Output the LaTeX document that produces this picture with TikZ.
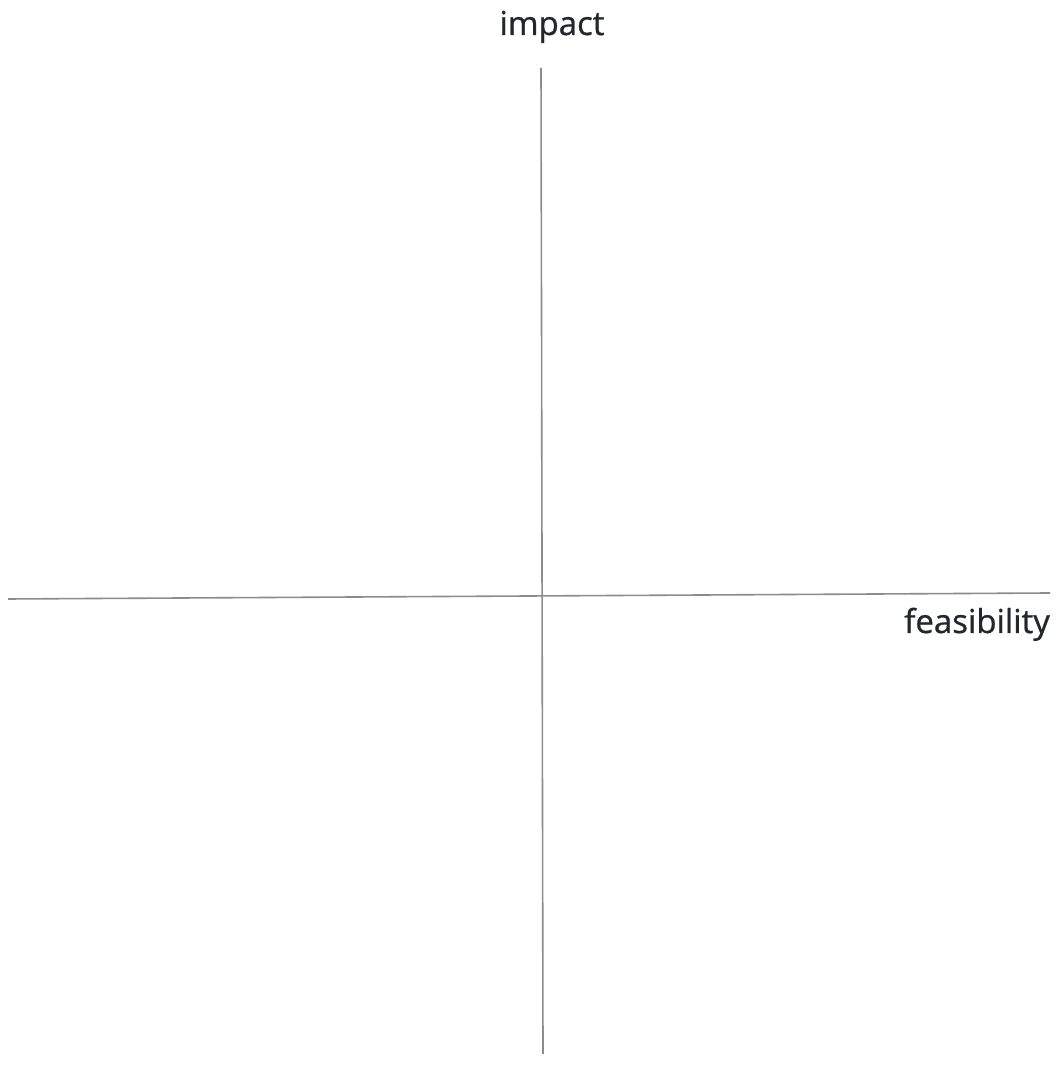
\documentclass[tikz,border=0pt]{standalone}
\usepackage{fontspec}
\setmainfont{Open Sans}
\newfontfamily\labelfont[FakeBold=0.8]{Open Sans}
\definecolor{axisgray}{RGB}{140,140,140}
\definecolor{labelink}{RGB}{35,38,45}
\usepackage{tikz}
\usetikzlibrary{positioning}

\begin{document}
\begin{tikzpicture}[
      x=1pt, y=1pt,
      axis/.style={draw=axisgray, line width=1.6pt},
      lbl/.style={font=\labelfont\fontsize{33}{36}\selectfont, text=labelink, inner sep=0pt},
    ]
    \useasboundingbox[fill=white] (0,0) rectangle (1057,1084);

    % axis end points
    \coordinate (ytop) at (541,1016);
    \coordinate (ybot) at (543,30);
    \coordinate (xleft) at (8,485);
    \coordinate (xright) at (1050,491);

    \draw[axis] (xleft) -- (xright);
    \draw[axis] (ybot) -- (ytop);

    \node[lbl, anchor=base] (impact) at (552,1049) {impact};
    \node[lbl, anchor=base west] (feas) at (904,451) {feasibility};
  \end{tikzpicture}
\end{document}
